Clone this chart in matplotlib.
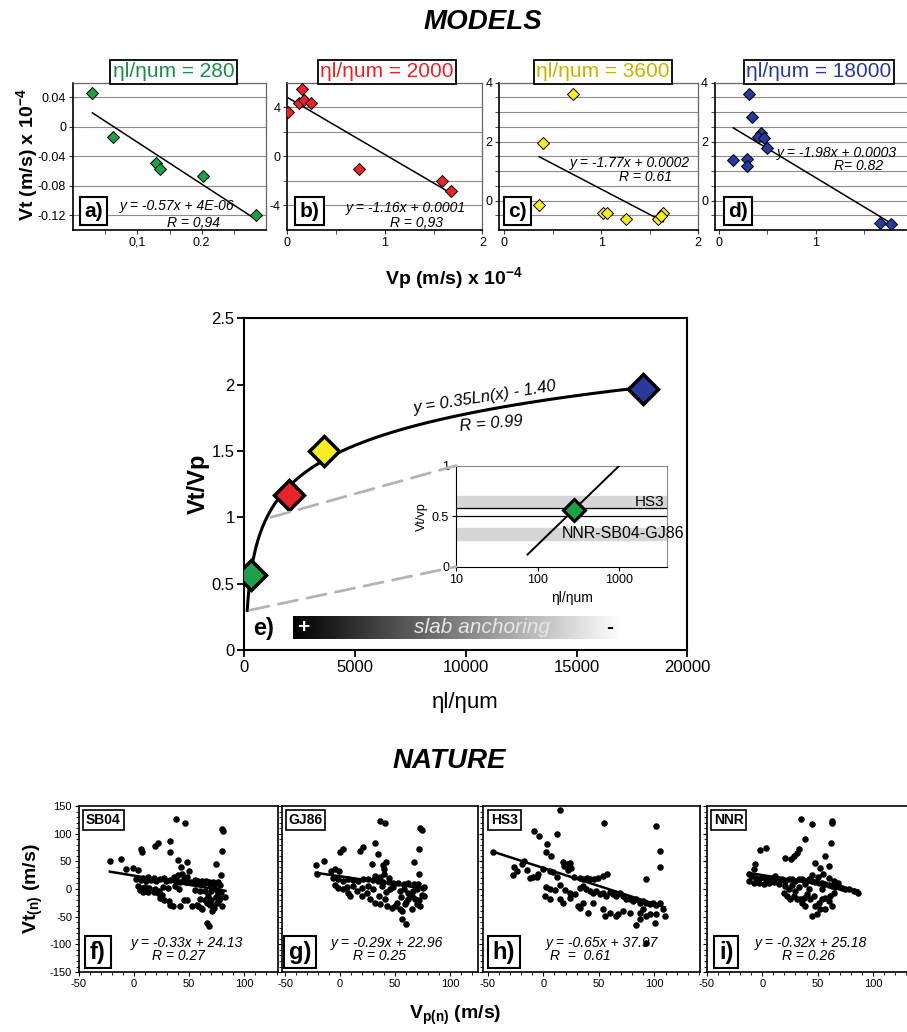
import numpy as np
import matplotlib
matplotlib.use("Agg")
import matplotlib.pyplot as plt
from matplotlib.patches import ConnectionPatch

plt.rcParams["font.family"] = ["Liberation Sans", "DejaVu Sans"]
plt.rcParams["mathtext.fontset"] = "custom"
plt.rcParams["mathtext.rm"] = "Liberation Sans"
plt.rcParams["mathtext.bf"] = "Liberation Sans:bold"
plt.rcParams["mathtext.it"] = "Liberation Sans:italic"
plt.rcParams["axes.unicode_minus"] = False

# ---------------- data: models (panels a-d) ----------------
ratios = [280, 2000, 3600, 18000]
colors = ["#1f9e4b", "#e8232a", "#f6ee22", "#2b3a9a"]
title_colors = ["#1e8a4c", "#e8232a", "#c4b400", "#2b3a9a"]

vp_280 = [0.030, 0.0615, 0.129, 0.135, 0.2016, 0.284]
vt_280 = [0.0455, -0.014, -0.0487, -0.057, -0.067, -0.120]
vp_2000 = [0.01, 0.12, 0.15, 0.175, 0.24, 0.73, 1.59, 1.68]
vt_2000 = [3.62, 4.35, 5.5, 4.6, 4.35, -1.0, -2.0, -2.8]
vp_3600 = [0.71, 0.40, 0.36, 1.02, 1.06, 1.26, 1.58, 1.64, 1.62]
vt_3600 = [3.61, 1.95, -0.14, -0.42, -0.42, -0.61, -0.64, -0.42, -0.53]
vp_18000 = [0.31, 0.34, 0.43, 0.40, 0.46, 0.49, 0.145, 0.29, 0.29, 1.67, 1.78]
vt_18000 = [3.61, 2.85, 2.30, 2.17, 2.11, 1.80, 1.39, 1.42, 1.16, -0.75, -0.81]

model_eqs = [("y = -0.57x + 4E-06", "R = 0,94"),
             ("y = -1.16x + 0.0001", "R = 0,93"),
             ("y = -1.77x + 0.0002", "R = 0.61"),
             ("y = -1.98x + 0.0003", "R= 0.82")]

# ---------------- data: panel e ----------------
vt_over_vp = [0.565, 1.17, 1.50, 1.965]
hs3_band = (0.58, 0.70)
nnr_band = (0.265, 0.385)
inset_line_x = [75, 1000]
inset_line_y = [0.12, 1.0]

# ---------------- data: nature (panels f-i) ----------------
sb04 = np.array([
    [-22, 50], [-12, 54], [-7, 37], [-1, 38], [4, 35], [6, 72], [7, 66], [19, 78], [22, 83], [33, 87],
    [33, 67], [38, 127], [46, 119], [40, 52], [48, 48], [43, 39], [50, 33], [80, 108], [81, 104], [80, 68],
    [74, 46], [79, 25], [83, -14], [66, -61], [68, -67],
    [2, 18], [6, 16], [11, 14], [15, 17], [20, 15], [24, 18], [29, 15], [33, 16], [38, 17], [42, 13],
    [47, 12], [52, 13], [56, 11], [60, 10], [64, 11], [69, 9], [73, 8], [78, 7], [8, 20], [13, 22],
    [18, 20], [27, 20], [36, 22], [45, 18], [55, 16], [65, 14], [72, 12], [76, 12], [40, 25], [44, 27],
    [48, 22], [58, 15], [62, 14], [68, 13],
    [4, 5], [5, -2], [8, -5], [13, -6], [18, -6], [24, -16], [27, -19], [32, -21], [33, -28], [35, -31],
    [42, -31], [45, -19], [48, -19], [53, -31], [58, -31], [61, -34], [64, -19], [67, -13], [70, -19],
    [72, -31], [75, -25], [76, -8], [78, -16], [7, 2], [10, 4], [14, 2], [19, 0], [23, -3], [26, 4],
    [31, 2], [37, 6], [41, 0], [55, -1], [60, -4], [64, -3], [70, -4], [75, -1], [25, -10], [22, -8],
    [60, -18], [57, -28], [62, -37], [71, -40], [73, -35], [77, -20], [79, -5], [80, -30], [66, -25],
    [69, -28], [74, -14]])

gj86 = np.array([
    [-22, 43], [-15, 50], [-8.5, 32.5], [-4.5, 35.5], [-0.6, 32.5], [0, 66], [2.4, 72], [18, 69], [21, 76.5],
    [32, 84], [34, 63], [36, 123], [41, 119], [29, 45], [39, 43], [42, 49], [40, 35.5], [73, 110], [74, 107],
    [72, 72], [67, 49], [72, 28], [76, -13], [56, -55], [60, -64],
    [-21, 26.5], [-6, 20.5], [-1.5, 17.5], [3, 14.5], [7.6, 17.5], [12, 16.3], [16.7, 14.5], [21, 17.5],
    [25.8, 18.7], [30, 16.3], [34.8, 14.5], [39.4, 12.7], [44, 12.7], [48.5, 10.2], [53, 11.4], [57.6, 8.4],
    [62, 11.4], [66.7, 8.4], [71, 8.4], [75.8, 4.2], [32, 24], [36, 22], [40, 27], [44, 20],
    [-4.5, 6.6], [-1.5, 2.4], [3, -0.6], [7.6, -6.6], [9, -12.7], [19.7, 2.4], [19.7, -12.7], [27.3, -18.7],
    [31.8, -24.7], [36.4, -27.7], [41, -18.7], [42.4, -30.7], [47, -33.7], [50, -30.7], [54.5, -35.5],
    [59, -27.7], [62, -18.7], [65, -12.7], [68, -18.7], [69.7, -27.7], [72.7, -30.7], [65, -36.7],
    [56, -39.8], [51.5, -24.7], [24.2, -6.6], [15, -3.6], [12, 5.4], [6, 4.2], [45.5, -0.6], [54.5, -3.6],
    [25, 5], [30, 0], [38, 5], [42, -5], [48, 3], [58, 0], [62, -8], [66, -4], [70, 0], [74, -10],
    [75, 2], [72, -20], [60, -24], [55, -15], [35, -12]])

hs3 = np.array([
    [-45, 66], [15, 143], [-8, 105], [-4, 95], [12, 99], [3, 81], [2, 67], [7, 60], [55, 119], [101, 113],
    [105, 68], [105, 39], [92, 18], [92, -98],
    [-26, 39], [-24, 32], [-27, 25], [-19, 45], [-17, 51], [-15, 34], [-12, 20], [-9, 22], [-6, 22],
    [-5, 28], [0, 36], [6, 33], [9, 30], [12, 22], [18, 48], [19, 42], [21, 46], [22, 35], [24, 47],
    [25, 38], [28, 22], [33, 19], [36, 18], [39, 19], [42, 18], [46, 18], [49, 19], [54, 23], [57, 28],
    [2.7, 4.2], [5.7, -0.6], [10.2, -1.8], [14.7, 6.6], [19.2, -1.8], [23.7, -6.6], [28.2, -9.6],
    [32.7, 2.4], [35.7, 5.4], [38.7, -0.6], [41.7, -3.6], [44.7, -6.6], [47.7, -3.6], [50.7, -9.6],
    [53.7, -6.6], [56.7, -12.7], [59.7, -5.4], [62.7, -9.6], [65.7, -12.7], [68.7, -6.6], [71.7, -12.7],
    [74.7, -18.7], [77.7, -18.7], [80.7, -21.7], [83.7, -18.7], [86.7, -24.7], [89.7, -21.7],
    [92.7, -24.7], [95.7, -27.7], [98.7, -24.7], [101.7, -29.5], [104.7, -24.7], [107.7, -36.7],
    [1.2, -12.7], [5.7, -18.7], [14.7, -18.7], [17.7, -24.7], [23.7, -15.7], [31.2, -30.7], [32.7, -33.7],
    [35.7, -24.7], [40.2, -42.8], [44.7, -24.7], [53.7, -36.7], [55.2, -48.8], [59.7, -42.8],
    [65.7, -48.8], [67.2, -45.8], [71.7, -39.8], [77.7, -42.8], [83.7, -65.7], [86.7, -54.8],
    [92.7, -48.8], [95.7, -45.8], [100.2, -60.8], [101.7, -45.8], [109.2, -48.8], [86.7, -42.8],
    [89.7, -36.7]])

nnr = np.array([
    [35, 126], [45, 117], [62.5, 123], [63, 119], [61.6, 84], [39, 91], [-2.4, 70.5], [3, 73.5], [21, 56.6],
    [26.4, 53.6], [28.5, 59.6], [31.5, 65.7], [33, 71.7], [48, 47.6], [57, 59.6], [52.5, 38.6], [60, 41.6],
    [-6.6, 44.6], [-7.5, 35.5],
    [-12, 26.5], [-9, 23.5], [-6, 20.5], [-3, 18.7], [0, 22.3], [3, 17.5], [6, 20.5], [9, 18.7], [12, 23.5],
    [15, 17.5], [18, 18.7], [21, 14.5], [24, 17.5], [27, 18.7], [30, 14.5], [33, 17.5], [36, 18.7],
    [39, 14.5], [42, 17.5], [45, 14.5], [48, 12.7], [51, 11.4], [54, 11.4], [57, 8.4], [60, 6.6],
    [63, 5.4], [66, 4.2], [69, 4.2], [72, 2.4], [75, 0.6], [78, -0.6], [82.6, -3.6], [86.5, -7.8],
    [45, 25], [50, 22], [55, 28], [60, 20], [65, 15], [68, 10],
    [-12, 14.5], [-7.5, 11.4], [-3, 10.2], [1.5, 8.4], [6, 11.4], [10.5, 12.7], [15, 8.4], [27, 6.6],
    [33, 4.2], [39, 8.4],
    [19.5, -6.6], [22.5, -12.7], [25.5, -18.7], [28.5, -12.7], [31.5, -17.5], [34.5, -18.7],
    [37.5, -15.7], [40.5, -9.6], [36, -24.7], [39, -30.7], [43.5, -18.7], [46.5, -12.7], [48, -30.7],
    [51, -24.7], [54, -18.7], [57, -15.7], [60, -21.7], [63, -30.7], [49.5, -45.8], [45, -48.8],
    [52.5, -36.7], [57, -36.7], [61.5, -12.7], [64.5, -6.6], [24, -0.6], [30, -3.6], [21, 5.4],
    [42, -0.6], [54, -0.6]])

nature_names = ["SB04", "GJ86", "HS3", "NNR"]
nature_slopes = [-0.33, -0.29, -0.65, -0.32]
nature_intercepts = [24.13, 22.96, 37.97, 25.18]
nature_eqs = [("y = -0.33x + 24.13", "R = 0.27"),
              ("y = -0.29x + 22.96", "R = 0.25"),
              ("y = -0.65x + 37.97", "R  =  0.61"),
              ("y = -0.32x + 25.18", "R = 0.26")]

fig = plt.figure(figsize=(9.07, 10.32), dpi=100)

# ================= MODELS =================
fig.text(0.532, 0.979, "MODELS", fontsize=20, fontweight="bold", fontstyle="italic",
         ha="center", va="center")

top_pos = [[0.0805, 0.7771, 0.2128, 0.1427],
           [0.3168, 0.7771, 0.2150, 0.1427],
           [0.5505, 0.7771, 0.2194, 0.1427],
           [0.7883, 0.7771, 0.2172, 0.1427]]
top_x = [vp_280, vp_2000, vp_3600, vp_18000]
top_y = [vt_280, vt_2000, vt_3600, vt_18000]
top_xlim = [(0, 0.3), (0, 2), (-0.05, 2), (-0.045, 2)]
top_ylim = [(-0.14, 0.06), (-6, 6), (-1, 4), (-1, 4)]
top_yticks = [[-0.12, -0.08, -0.04, 0, 0.04], [-4, 0, 4], [0, 2, 4], [0, 2, 4]]
top_yticklabels = [["-0.12", "-0.08", "-0.04", "0", "0.04"], ["-4", "0", "4"], ["0", "2", "4"], ["0", "2", "4"]]
top_yminor = [[], [-2, 2], list(np.arange(-0.5, 4.0, 0.5)), list(np.arange(-0.5, 4.0, 0.5))]
top_xticks = [[0.1, 0.2], [0, 1, 2], [0, 1, 2], [0, 1, 2]]
top_xticklabels = [["0,1", "0.2"], ["0", "1", "2"], ["0", "1", "2"], ["0", "1", "2"]]
top_xminor = [[0.05, 0.15, 0.25], [0.5, 1.5], [0.5, 1.5], [0.5, 1.5]]
title_x = [0.52, 0.51, 0.52, 0.528]
letter_x = [0.106, 0.116, 0.091, 0.117]
eq_pos = [((0.537, 0.165), (0.623, 0.05), "center"),
          ((0.609, 0.149), (0.664, 0.045), "center"),
          ((0.657, 0.453), (0.737, 0.362), "center"),
          ((0.313, 0.525), (0.731, 0.434), "left")]

for i, ax_pos in enumerate(top_pos):
    ax = fig.add_axes(ax_pos)
    x = np.asarray(top_x[i])
    y = np.asarray(top_y[i])
    coef = np.polyfit(x, y, 1)
    xx = np.array([x.min(), x.max()])
    ax.plot(xx, np.polyval(coef, xx), color="k", lw=1.1, zorder=2)
    ax.plot(x, y, "D", ms=6, mfc=colors[i], mec="k", mew=0.7, zorder=3)
    ax.set_xlim(*top_xlim[i])
    ax.set_ylim(*top_ylim[i])
    ax.set_yticks(top_yticks[i])
    ax.set_yticklabels(top_yticklabels[i])
    ax.set_yticks(top_yminor[i], minor=True)
    ax.set_xticks(top_xticks[i])
    ax.set_xticklabels(top_xticklabels[i])
    ax.set_xticks(top_xminor[i], minor=True)
    ax.grid(axis="y", which="both", color="#8c8c8c", lw=0.8)
    ax.set_axisbelow(True)
    ax.tick_params(which="both", labelsize=9, length=3, direction="out", color="#333333", pad=2)
    for side in ["top", "right"]:
        ax.spines[side].set_color("#666666")
        ax.spines[side].set_linewidth(0.9)
    for side in ["left", "bottom"]:
        ax.spines[side].set_linewidth(1.2)
    ax.text(title_x[i], 1.075, "\u03b7l/\u03b7um = %d" % ratios[i], transform=ax.transAxes,
            ha="center", va="center", fontsize=15, color=title_colors[i],
            bbox=dict(boxstyle="square,pad=0.12", fc="white", ec="k", lw=1.3))
    ax.text(letter_x[i], 0.129, "abcd"[i] + ")", transform=ax.transAxes, ha="center", va="center",
            fontsize=15, fontweight="bold",
            bbox=dict(boxstyle="square,pad=0.22", fc="white", ec="k", lw=1.5), zorder=5)
    (ex, ey), (rx, ry), ha = eq_pos[i]
    ax.text(ex, ey, model_eqs[i][0], transform=ax.transAxes, ha=ha, va="center",
            fontsize=10, fontstyle="italic", zorder=4)
    ax.text(rx, ry, model_eqs[i][1], transform=ax.transAxes, ha="center", va="center",
            fontsize=10, fontstyle="italic", zorder=4)

fig.text(0.0298, 0.8498, r"Vt (m/s) x 10$^{\mathbf{-4}}$", rotation=90, fontsize=14,
         fontweight="bold", ha="center", va="center")
fig.text(0.5, 0.7305, r"Vp (m/s) x 10$^{\mathbf{-4}}$", fontsize=14, fontweight="bold",
         ha="center", va="center")

# ================= panel e =================
ax_e = fig.add_axes([0.2694, 0.3702, 0.4884, 0.3214])
log_coef = np.polyfit(np.log(ratios), vt_over_vp, 1)
xs = np.linspace(130, ratios[-1], 500)
ax_e.plot(xs, np.polyval(log_coef, np.log(xs)), color="k", lw=2.2, zorder=3)
for r, v, c in zip(ratios, vt_over_vp, colors):
    ax_e.plot(r, v, "D", ms=15, mfc=c, mec="k", mew=2.5, zorder=4)

grad = np.linspace(0, 1, 256)[None, :]
ax_e.imshow(grad, extent=[2200, 17000, 0.08, 0.25], cmap="gray", aspect="auto", zorder=1)
ax_e.text(2650, 0.172, "+", color="white", fontsize=15, fontweight="bold", ha="center", va="center", zorder=2)
ax_e.text(10720, 0.168, "slab anchoring", color="#e6e6e6", fontsize=15, fontstyle="italic",
          ha="center", va="center", zorder=2)
ax_e.text(16480, 0.168, "-", color="k", fontsize=15, fontweight="bold", ha="center", va="center", zorder=2)
ax_e.text(0.02, 0.066, "e)", transform=ax_e.transAxes, fontsize=17, fontweight="bold",
          ha="left", va="center")
ax_e.text(10870, 1.905, "y = 0.35Ln(x) - 1.40", fontsize=12, fontstyle="italic",
          rotation=9, ha="center", va="center", rotation_mode="anchor")
ax_e.text(11130, 1.705, "R = 0.99", fontsize=12, fontstyle="italic",
          rotation=5, ha="center", va="center", rotation_mode="anchor")

ax_e.set_xlim(0, 20000)
ax_e.set_ylim(0, 2.5)
ax_e.set_xticks([0, 5000, 10000, 15000, 20000])
ax_e.set_yticks([0, 0.5, 1, 1.5, 2, 2.5])
ax_e.set_yticklabels(["0", "0.5", "1", "1.5", "2", "2.5"])
ax_e.tick_params(labelsize=12, length=5, width=1.3, direction="out", pad=2)
for sp in ax_e.spines.values():
    sp.set_linewidth(1.5)

fig.text(0.219, 0.531, "Vt/Vp", rotation=90, fontsize=17, fontweight="bold", ha="center", va="center")
fig.text(0.5134, 0.3188, "\u03b7l/\u03b7um", fontsize=16, ha="center", va="center")

# inset
ax_in = fig.add_axes([0.5028, 0.4509, 0.2323, 0.0979])
ax_in.set_xscale("log")
ax_in.axhspan(*hs3_band, color="#d6d6d6", zorder=1)
ax_in.axhspan(*nnr_band, color="#d6d6d6", zorder=1)
ax_in.axhline(hs3_band[0], color="k", lw=0.9, zorder=2)
ax_in.axhline(0.5, color="k", lw=0.9, zorder=2)
ax_in.plot(inset_line_x, inset_line_y, color="k", lw=1.4, zorder=3)
ax_in.plot(ratios[0], vt_over_vp[0], "D", ms=11, mfc=colors[0], mec="k", mew=2.2, zorder=4)
ax_in.set_xlim(10, 3800)
ax_in.set_ylim(0, 1)
ax_in.set_xticks([10, 100, 1000])
ax_in.set_xticklabels(["10", "100", "1000"])
ax_in.xaxis.set_minor_locator(plt.NullLocator())
ax_in.set_yticks([0, 0.5, 1])
ax_in.set_yticklabels(["0", "0.5", "1"])
ax_in.tick_params(labelsize=9, length=3, pad=2)
for side in ["top", "right"]:
    ax_in.spines[side].set_color("#8a8a8a")
ax_in.text(0.99, 0.64, "HS3", transform=ax_in.transAxes, ha="right", va="center", fontsize=11, zorder=5)
ax_in.text(0.502, 0.33, "NNR-SB04-GJ86", transform=ax_in.transAxes, ha="left", va="center",
           fontsize=11.5, zorder=5, clip_on=False)
fig.text(421.7 / 907, 1 - 516.7 / 1032, "Vt/vp", rotation=90, fontsize=9, ha="center", va="center")
fig.text(571.7 / 907, 1 - 598 / 1032, "\u03b7l/\u03b7um", fontsize=10, ha="center", va="center")

# dashed zoom guides from the curve to the inset corners
zoom_from = [(1200, 1.0), (250, 0.30)]
for (zx, zy), corner in zip(zoom_from, [(0, 1), (0, 0)]):
    con = ConnectionPatch(xyA=(zx, zy), coordsA=ax_e.transData, xyB=corner, coordsB=ax_in.transAxes,
                          color="#b4b4b4", lw=2, linestyle=(0, (7, 3.5)), zorder=2)
    fig.add_artist(con)

# ================= NATURE =================
fig.text(0.495, 0.2626, "NATURE", fontsize=20, fontweight="bold", fontstyle="italic",
         ha="center", va="center")

bot_pos = [[0.0871, 0.0581, 0.2197, 0.1609],
           [0.3106, 0.0581, 0.2161, 0.1609],
           [0.5329, 0.0581, 0.2389, 0.1609],
           [0.7792, 0.0581, 0.2250, 0.1609]]
bot_xlim = [(-50, 131), (-53, 125), (-54, 141), (-50, 134)]
bot_data = [sb04, gj86, hs3, nnr]
bot_eq_x = [0.54, 0.536, 0.546, 0.51]
bot_r_x = [0.498, 0.50, 0.446, 0.50]

for i, ax_pos in enumerate(bot_pos):
    ax = fig.add_axes(ax_pos)
    pts = bot_data[i]
    ax.scatter(pts[:, 0], pts[:, 1], s=22, color="k", linewidths=0, zorder=3)
    xx = np.array([pts[:, 0].min(), pts[:, 0].max()])
    ax.plot(xx, nature_slopes[i] * xx + nature_intercepts[i], color="k", lw=1.8, zorder=4)
    ax.set_xlim(*bot_xlim[i])
    ax.set_ylim(-150, 150)
    ax.set_xticks([-50, 0, 50, 100])
    ax.set_xticks(np.arange(-50, bot_xlim[i][1], 10), minor=True)
    ax.set_yticks([-150, -100, -50, 0, 50, 100, 150])
    ax.set_yticks(np.arange(-150, 151, 10), minor=True)
    ax.tick_params(which="major", labelsize=8, length=3, direction="out", pad=2)
    ax.tick_params(which="minor", length=2, direction="out")
    if i > 0:
        ax.tick_params(axis="y", labelleft=False)
    for sp in ax.spines.values():
        sp.set_linewidth(1.2)
    ax.text(0.035, 0.958, nature_names[i], transform=ax.transAxes, ha="left", va="top",
            fontsize=10, fontweight="bold",
            bbox=dict(boxstyle="square,pad=0.2", fc="white", ec="k", lw=1.2), zorder=5)
    ax.text(0.095, 0.12, "fghi"[i] + ")", transform=ax.transAxes, ha="center", va="center",
            fontsize=17, fontweight="bold",
            bbox=dict(boxstyle="square,pad=0.2", fc="white", ec="k", lw=1.5), zorder=5)
    ax.text(bot_eq_x[i], 0.173, nature_eqs[i][0], transform=ax.transAxes, ha="center", va="center",
            fontsize=10, fontstyle="italic", zorder=4)
    ax.text(bot_r_x[i], 0.096, nature_eqs[i][1], transform=ax.transAxes, ha="center", va="center",
            fontsize=10, fontstyle="italic", zorder=4)

fig.text(0.0364, 0.1386, r"Vt$_{\mathbf{(n)}}$ (m/s)", rotation=90, fontsize=14, fontweight="bold",
         ha="center", va="center")
fig.text(0.5017, 0.016, r"V$_{\mathbf{p(n)}}$ (m/s)", fontsize=14, fontweight="bold",
         ha="center", va="center")

fig.savefig("out.png", dpi=100)
